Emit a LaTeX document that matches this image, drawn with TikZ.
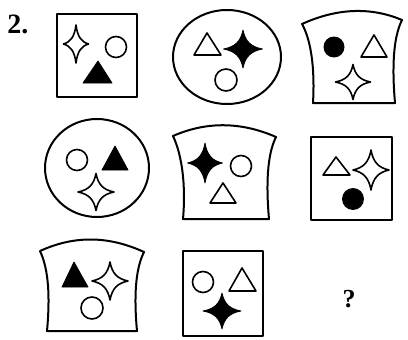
\documentclass[tikz,border=0pt]{standalone}
\usepackage{fontspec}
\setmainfont{Liberation Serif}
\begin{document}
\begin{tikzpicture}[x=1pt,y=-1pt,
  bigframe/.style={draw, line width=2pt, line join=round},
  openshape/.style={draw, line width=1.6pt, fill=white, line join=round},
  filledshape/.style={draw, fill=black, line width=0.8pt, line join=round},
  lbl/.style={inner sep=0pt, font=\bfseries\fontsize{28}{28}\selectfont}]
\newcommand{\drawfourstar}[5]{%
  \begin{scope}[shift={(#2,#3)}]
  \path[#1] (#4,0) .. controls ({0.4*#4},{0.12*#5}) and ({0.12*#4},{0.4*#5}) .. (0,#5)
    .. controls ({-0.12*#4},{0.4*#5}) and ({-0.4*#4},{0.12*#5}) .. (-#4,0)
    .. controls ({-0.4*#4},{-0.12*#5}) and ({-0.12*#4},{-0.4*#5}) .. (0,-#5)
    .. controls ({0.12*#4},{-0.4*#5}) and ({0.4*#4},{-0.12*#5}) .. cycle;
  \end{scope}}
\newcommand{\drawtri}[6]{%
  \path[#1] (#2,#3) -- (#4,#6) -- (#5,#6) -- cycle;}
\useasboundingbox (0,0) rectangle (408,340);

% labels
\node[lbl] (num) at (18,24) {2.};
\node[inner sep=0pt, font=\bfseries\fontsize{26}{26}\selectfont] (qm) at (349,299) {?};

% Row 1, square
\draw[bigframe] (57,14) rectangle (137,97);
\drawfourstar{openshape}{76}{44}{12.5}{19}
\draw[openshape] (116,47) circle[radius=10.5];
\drawtri{filledshape}{98}{61}{83}{112}{83}

% Row 1, circle
\draw[bigframe] (227,57) ellipse[x radius=54, y radius=47];
\drawtri{openshape}{207}{33}{194}{221}{55}
\drawfourstar{filledshape}{243}{49}{19.5}{19}
\draw[openshape] (226,80) circle[radius=11];

% Row 1, barrel
\draw[bigframe] (302,24) .. controls (335,9) and (369,6) .. (402,20)
  .. controls (393,38) and (392,68) .. (395,103) -- (313,103)
  .. controls (315,68) and (311,40) .. cycle;
\fill (334,47) circle[radius=10.5];
\drawtri{openshape}{374}{35}{361}{387}{57}
\drawfourstar{openshape}{353}{82}{17.5}{17.5}

% Row 2, circle
\draw[bigframe] (97,168) ellipse[x radius=52, y radius=49];
\draw[openshape] (77,160) circle[radius=10.5];
\drawtri{filledshape}{115}{146}{102}{128}{170}
\drawfourstar{openshape}{96}{192}{18}{18.5}

% Row 2, barrel
\draw[bigframe] (173,136) .. controls (207,121) and (242,122) .. (276,137)
  .. controls (267,155) and (266,185) .. (269,219) -- (183,219)
  .. controls (186,185) and (182,155) .. cycle;
\drawfourstar{filledshape}{205}{163}{17.5}{20}
\draw[openshape] (241,166) circle[radius=10.5];
\drawtri{openshape}{223}{183}{210}{236}{203}

% Row 2, square
\draw[bigframe] (311,137) rectangle (392,220);
\drawtri{openshape}{336}{157}{323}{350}{175}
\drawfourstar{openshape}{371}{170}{18}{20}
\fill (353,199) circle[radius=11];

% Row 3, barrel
\draw[bigframe] (40,251) .. controls (75,235) and (109,236) .. (144,252)
  .. controls (135,270) and (134,298) .. (137,331) -- (47,331)
  .. controls (50,298) and (49,270) .. cycle;
\drawtri{filledshape}{74}{262}{62}{88}{287}
\drawfourstar{openshape}{110}{281}{18}{19}
\draw[openshape] (92,308) circle[radius=11];

% Row 3, square
\draw[bigframe] (183,251) rectangle (263,336);
\draw[openshape] (203,282) circle[radius=10.5];
\drawtri{openshape}{242}{268}{229}{256}{291}
\drawfourstar{filledshape}{222}{311}{19}{18}
\end{tikzpicture}
\end{document}
